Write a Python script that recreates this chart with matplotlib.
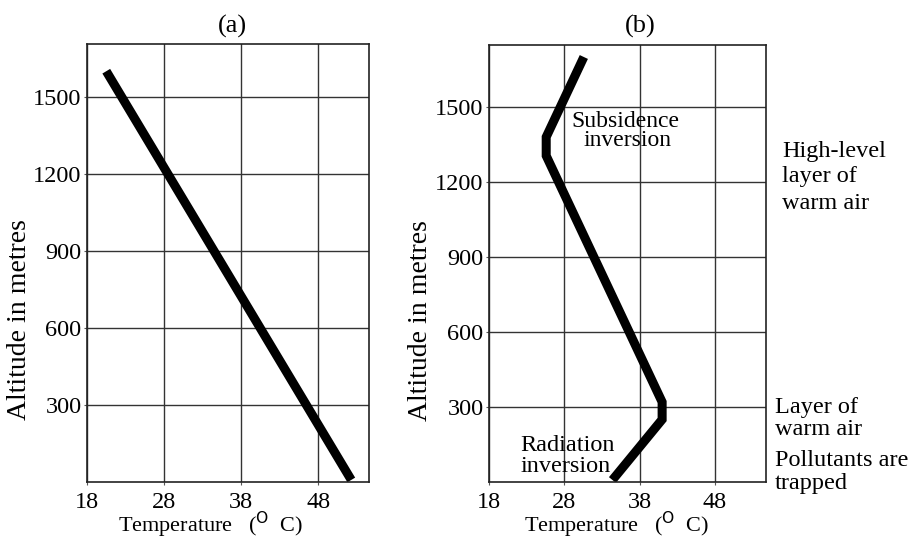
import matplotlib
matplotlib.use("Agg")
import matplotlib.pyplot as plt

# Data
temp_a = [20.5, 52.3]
alt_a = [1600, 8]

temp_b = [30.6, 25.6, 25.6, 41.0, 41.0, 34.4]
alt_b = [1700, 1380, 1305, 320, 250, 8]

xticks = [18, 28, 38, 48]
yticks = [300, 600, 900, 1200, 1500]

plt.rcParams['font.family'] = ['Liberation Serif', 'DejaVu Serif']
FS = 17.5
W, H = 909, 539

fig = plt.figure(figsize=(W / 100, H / 100), dpi=100)
ax1 = fig.add_axes([87 / W, 1 - 482 / H, 282 / W, 438 / H])
ax2 = fig.add_axes([489 / W, 1 - 482 / H, 277 / W, 437 / H])


def fx(px):
    return px / W


def fy(py):
    return 1 - py / H


def style(ax, ylim_top, xlim_right, ylab_x, xlab_x, xlab_y):
    ax.set_xlim(18, xlim_right)
    ax.set_ylim(0, ylim_top)
    ax.set_xticks(xticks)
    ax.set_yticks(yticks)
    ax.tick_params(axis='both', labelsize=FS, length=2, width=0.8, color='#555555')
    ax.tick_params(axis='x', pad=5)
    ax.tick_params(axis='y', pad=2)
    ax.grid(True, color='#333333', linewidth=1.0)
    ax.set_axisbelow(True)
    for s in ax.spines.values():
        s.set_linewidth(1.2)
        s.set_color('#222222')
    ax.set_ylabel('Altitude in metres', fontsize=20, ha='center', va='center')
    ax.yaxis.set_label_coords(ylab_x, 0.37)
    ax.set_xlabel(r'Temperature   ($^{\rm O}$  C)', fontsize=16, va='baseline')
    ax.xaxis.set_label_coords(xlab_x, xlab_y)


style(ax1, 1706, 54.6, -0.2376, 0.44, -50 / 438)
style(ax2, 1748, 54.8, -0.249, 0.462, -50 / 437)

ax1.plot(temp_a, alt_a, color='black', linewidth=6.5, solid_capstyle='butt', solid_joinstyle='miter')
ax2.plot(temp_b, alt_b, color='black', linewidth=6.5, solid_capstyle='butt', solid_joinstyle='miter')

# panel titles
fig.text(fx(232), fy(33), '(a)', fontsize=19, ha='center', va='baseline')
fig.text(fx(640), fy(33), '(b)', fontsize=19, ha='center', va='baseline')

# in-plot annotations
fig.text(fx(625), fy(127), 'Subsidence', fontsize=17, ha='center', va='baseline')
fig.text(fx(628), fy(146), 'inversion', fontsize=17, ha='center', va='baseline')
fig.text(fx(568), fy(451), 'Radiation', fontsize=FS, ha='center', va='baseline')
fig.text(fx(566), fy(472), 'inversion', fontsize=FS, ha='center', va='baseline')

# right-side annotations
for txt, x, y in [('High-level', 782, 157), ('layer of', 782, 182), ('warm air', 782, 209),
                  ('Layer of', 775, 413), ('warm air', 775, 435),
                  ('Pollutants are', 775, 466), ('trapped', 775, 489)]:
    fig.text(fx(x), fy(y), txt, fontsize=FS, ha='left', va='baseline')

fig.savefig('out.png', dpi=100)
